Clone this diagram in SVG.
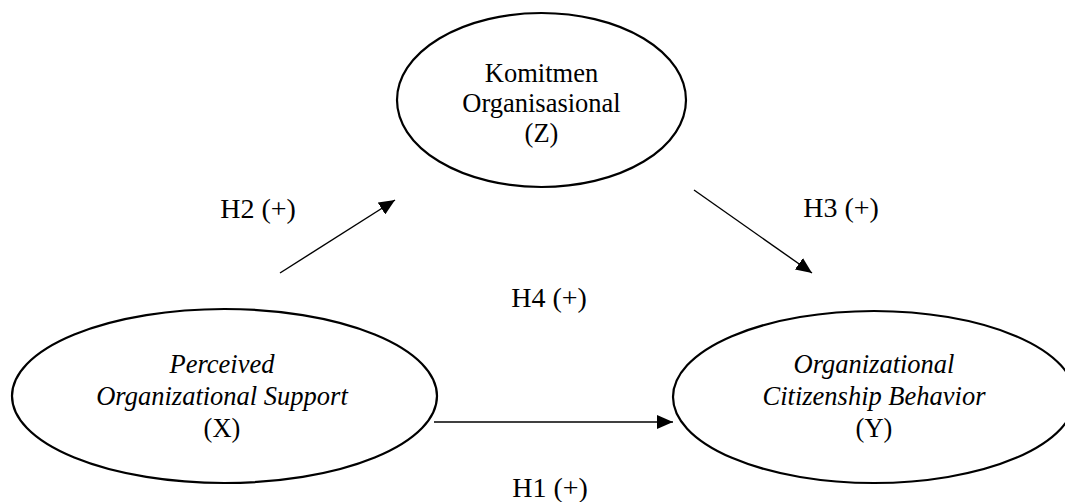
<svg xmlns="http://www.w3.org/2000/svg" width="1065" height="502" viewBox="0 0 1065 502">
<style>
.node ellipse{fill:#fff;stroke:#000;stroke-width:2.2}
.t{font-family:"Liberation Serif","Times New Roman",serif;font-size:26.5px;fill:#000;text-anchor:middle}
.i{font-style:italic}
.h{font-family:"Liberation Serif","Times New Roman",serif;font-size:28px;fill:#000;text-anchor:middle}
.c line{stroke:#000;stroke-width:1.4}
</style>
<defs>
<marker id="ah" markerUnits="userSpaceOnUse" markerWidth="16" markerHeight="14" refX="16" refY="7" orient="auto">
<path d="M0,0 L16,7 L0,14 z" fill="#000"/>
</marker>
</defs>
<rect width="1065" height="502" fill="#fff"/>
<g id="node-z" class="node">
<ellipse cx="541.5" cy="100" rx="144.5" ry="87"/>
<text class="t" x="541.5" y="82">Komitmen</text>
<text class="t" x="541.5" y="112">Organisasional</text>
<text class="t" x="541.5" y="142">(Z)</text>
</g>
<g id="node-x" class="node">
<ellipse cx="224.5" cy="396" rx="212.5" ry="87"/>
<text class="t i" x="222" y="373">Perceived</text>
<text class="t i" x="222" y="405">Organizational Support</text>
<text class="t" x="222" y="437">(X)</text>
</g>
<g id="node-y" class="node">
<ellipse cx="874" cy="397" rx="201" ry="86"/>
<text class="t i" x="874" y="373">Organizational</text>
<text class="t i" x="874" y="405">Citizenship Behavior</text>
<text class="t" x="874" y="437">(Y)</text>
</g>
<g id="connectors" class="c">
<line x1="280" y1="273" x2="395" y2="200" marker-end="url(#ah)"/>
<line x1="694" y1="190" x2="812" y2="273" marker-end="url(#ah)"/>
<line x1="434" y1="422" x2="673" y2="422" marker-end="url(#ah)"/>
</g>
<g id="labels">
<text class="h" x="258" y="218">H2 (+)</text>
<text class="h" x="841" y="217">H3 (+)</text>
<text class="h" x="549" y="307">H4 (+)</text>
<text class="h" x="550" y="497">H1 (+)</text>
</g>
</svg>
